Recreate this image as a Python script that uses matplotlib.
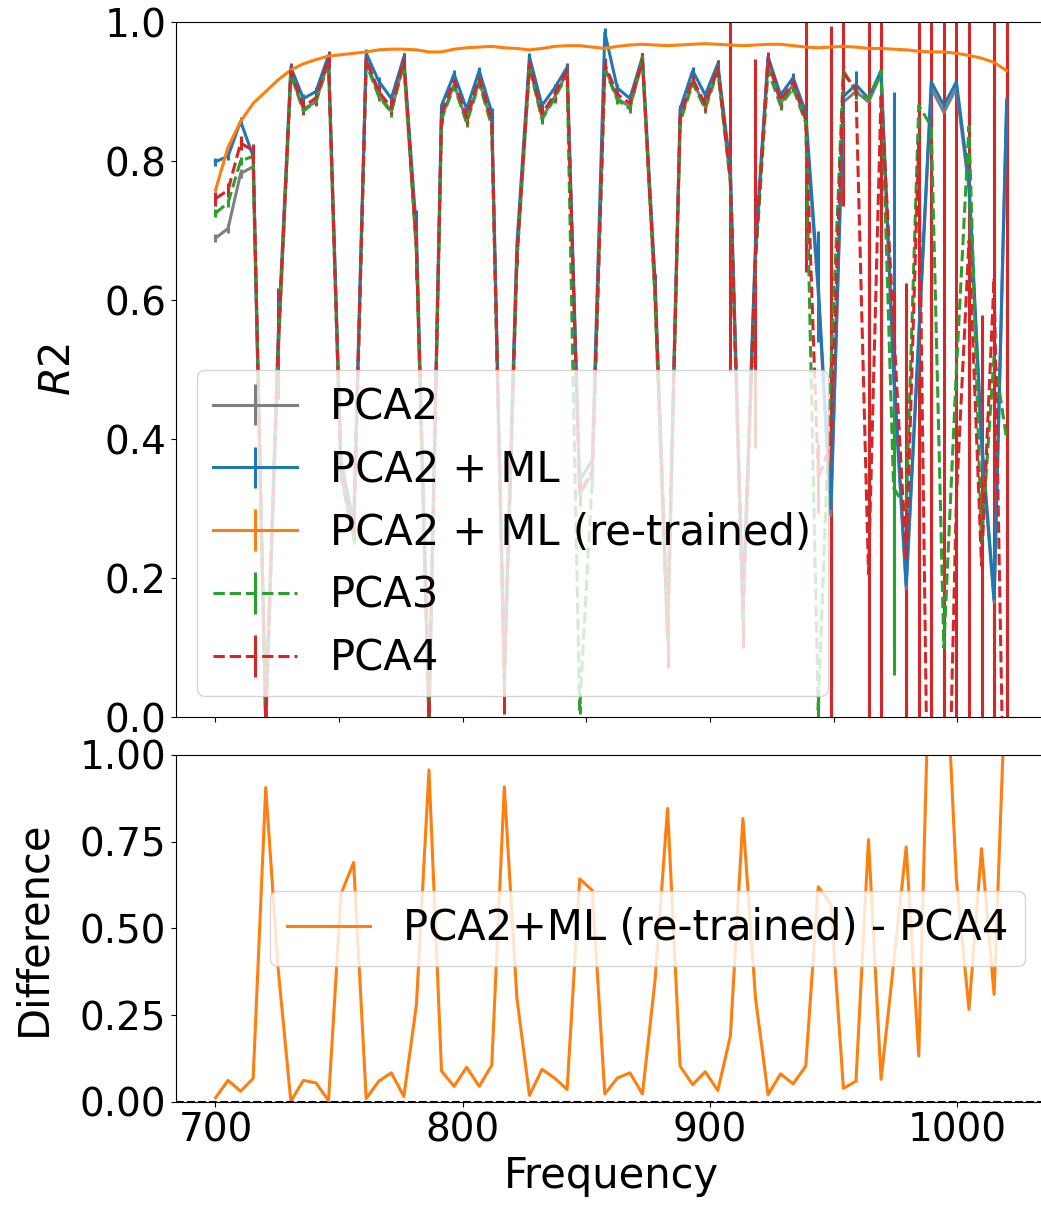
import numpy as np
import matplotlib
matplotlib.use("Agg")
import matplotlib.pyplot as plt

plt.rcParams["font.size"] = 28

# frequency grid (64 samples, 700 .. 1020)
freq = np.linspace(700, 1020, 64)

r2_retrained = [
    0.758, 0.820, 0.857, 0.883, 0.900, 0.917, 0.931, 0.940, 0.946, 0.951,
    0.953, 0.955, 0.957, 0.960, 0.961, 0.961, 0.960, 0.957, 0.957, 0.961,
    0.963, 0.964, 0.965, 0.963, 0.962, 0.960, 0.962, 0.965, 0.966, 0.966,
    0.964, 0.962, 0.965, 0.967, 0.968, 0.967, 0.966, 0.967, 0.968, 0.969,
    0.968, 0.967, 0.966, 0.967, 0.968, 0.968, 0.966, 0.964, 0.963, 0.964,
    0.965, 0.964, 0.962, 0.962, 0.961, 0.960, 0.958, 0.957, 0.957, 0.955,
    0.952, 0.948, 0.942, 0.930,
]

r2_pca4 = [
    0.746, 0.758, 0.826, 0.815, -0.006, 0.537, 0.929, 0.878, 0.891, 0.947,
    0.353, 0.265, 0.947, 0.900, 0.877, 0.945, 0.680, 0.000, 0.868, 0.916,
    0.863, 0.919, 0.859, 0.055, 0.662, 0.941, 0.868, 0.896, 0.930, 0.323,
    0.354, 0.939, 0.896, 0.883, 0.945, 0.617, 0.120, 0.864, 0.918, 0.882,
    0.935, 0.777, 0.149, 0.667, 0.947, 0.887, 0.914, 0.861, 0.343, 0.394,
    0.926, 0.904, 0.206, 0.897, 0.561, 0.225, 0.826, -0.543, -0.443, 0.315,
    0.685, 0.218, 0.632, -0.370,
]

r2_pca3 = [
    0.725, 0.740, 0.800, 0.807, -0.010, 0.530, 0.925, 0.872, 0.886, 0.940,
    0.345, 0.255, 0.940, 0.893, 0.870, 0.940, 0.670, -0.010, 0.860, 0.908,
    0.855, 0.912, 0.850, 0.045, 0.655, 0.935, 0.860, 0.890, 0.925, 0.010,
    0.340, 0.932, 0.888, 0.875, 0.950, 0.600, 0.110, 0.856, 0.912, 0.875,
    0.930, 0.770, 0.140, 0.655, 0.930, 0.880, 0.905, 0.855, 0.010, 0.500,
    0.930, 0.900, 0.890, 0.930, 0.330, 0.300, 0.880, 0.850, 0.100, 0.500,
    0.850, 0.250, 0.520, 0.400,
]

r2_pca2_ml = [
    0.799, 0.807, 0.857, 0.807, 0.010, 0.550, 0.935, 0.890, 0.900, 0.952,
    0.370, 0.280, 0.955, 0.915, 0.890, 0.950, 0.700, 0.015, 0.880, 0.925,
    0.875, 0.930, 0.870, 0.070, 0.680, 0.950, 0.880, 0.905, 0.935, 0.340,
    0.370, 0.985, 0.905, 0.890, 0.950, 0.630, 0.135, 0.875, 0.930, 0.895,
    0.940, 0.790, 0.165, 0.680, 0.950, 0.895, 0.920, 0.870, 0.620, 0.300,
    0.893, 0.910, 0.890, 0.930, 0.500, 0.190, 0.550, 0.914, 0.880, 0.914,
    0.770, 0.400, 0.170, 0.888,
]

r2_pca2 = [
    0.689, 0.703, 0.782, 0.792, -0.010, 0.530, 0.925, 0.875, 0.885, 0.945,
    0.350, 0.260, 0.945, 0.895, 0.872, 0.942, 0.675, -0.005, 0.862, 0.910,
    0.858, 0.915, 0.855, 0.050, 0.658, 0.938, 0.862, 0.892, 0.928, 0.320,
    0.350, 0.935, 0.890, 0.878, 0.942, 0.612, 0.115, 0.860, 0.915, 0.878,
    0.932, 0.772, 0.145, 0.662, 0.944, 0.883, 0.910, 0.858, 0.610, 0.290,
    0.885, 0.900, 0.885, 0.925, 0.490, 0.185, 0.540, 0.905, 0.870, 0.905,
    0.760, 0.390, 0.165, 0.880,
]

err_none = [0.0] * 64
err_small = [0.006] * 64
err_pca2_ml = [0.006] * 48 + [
    0.08, 0.26, 0.15, 0.02, 0.01, 0.01, 0.40, 0.01, 0.01, 0.01,
    0.01, 0.01, 0.01, 0.15, 0.05, 0.01,
]
err_pca3 = [0.006] * 43 + [0.18] + [0.006] * 4 + [
    0.02, 0.30, 0.01, 0.01, 0.01, 0.05, 0.27, 0.30, 0.01, 0.01,
    0.10, 0.01, 0.01, 0.01, 0.45, 0.55,
]
err_pca4 = [
    0.01, 0.01, 0.01, 0.01, 0.05, 0.08, 0.01, 0.01, 0.01, 0.01,
    0.01, 0.01, 0.01, 0.01, 0.01, 0.01, 0.05, 0.05, 0.01, 0.01,
    0.01, 0.01, 0.01, 0.05, 0.01, 0.01, 0.01, 0.01, 0.01, 0.02,
    0.01, 0.01, 0.01, 0.01, 0.01, 0.02, 0.05, 0.01, 0.01, 0.01,
    0.01, 0.28, 0.05, 0.28, 0.01, 0.01, 0.01, 0.22, 0.05, 0.60,
    0.19, 0.01, 0.85, 0.95, 0.05, 0.40, 0.90, 1.60, 1.50, 0.70,
    0.70, 0.36, 0.65, 1.40,
]

diff_label = "PCA2+ML (re-trained) - PCA4"
difference = np.array(r2_retrained) - np.array(r2_pca4)

fig = plt.figure(figsize=(10.41, 12.12), dpi=100)
ax1 = fig.add_axes([0.169, 0.4084, 0.836, 0.5734])
ax2 = fig.add_axes([0.169, 0.0908, 0.836, 0.2863])

series = [
    ("PCA2", r2_pca2, err_small, "tab:gray", "-"),
    ("PCA2 + ML", r2_pca2_ml, err_pca2_ml, "tab:blue", "-"),
    ("PCA2 + ML (re-trained)", r2_retrained, err_none, "tab:orange", "-"),
    ("PCA3", r2_pca3, err_pca3, "tab:green", "--"),
    ("PCA4", r2_pca4, err_pca4, "tab:red", "--"),
]
for label, vals, err, c, ls in series:
    ax1.errorbar(freq, vals, yerr=err, color=c, ls=ls, lw=2.2,
                 elinewidth=2.2, label=label)

ax1.set_xlim(684, 1036)
ax1.set_ylim(0, 1)
ax1.set_xticks([700, 750, 800, 850, 900, 950, 1000])
ax1.set_xticklabels([])
ax1.set_ylabel("$R2$", fontsize=30, labelpad=18)
ax1.legend(loc="lower left", fontsize=30)

ax2.plot(freq, difference, color="tab:orange", lw=2.2, label=diff_label)
ax2.axhline(0, color="k", ls="--", lw=1.5)
ax2.set_xlim(684, 1036)
ax2.set_ylim(0, 1)
ax2.set_xticks([700, 800, 900, 1000])
ax2.set_yticks([0, 0.25, 0.5, 0.75, 1.0])
ax2.set_xlabel("Frequency", fontsize=30)
ax2.set_ylabel("Difference", fontsize=30, labelpad=18)
ax2.legend(loc="center right", fontsize=30)

fig.savefig("out.png", dpi=100)
